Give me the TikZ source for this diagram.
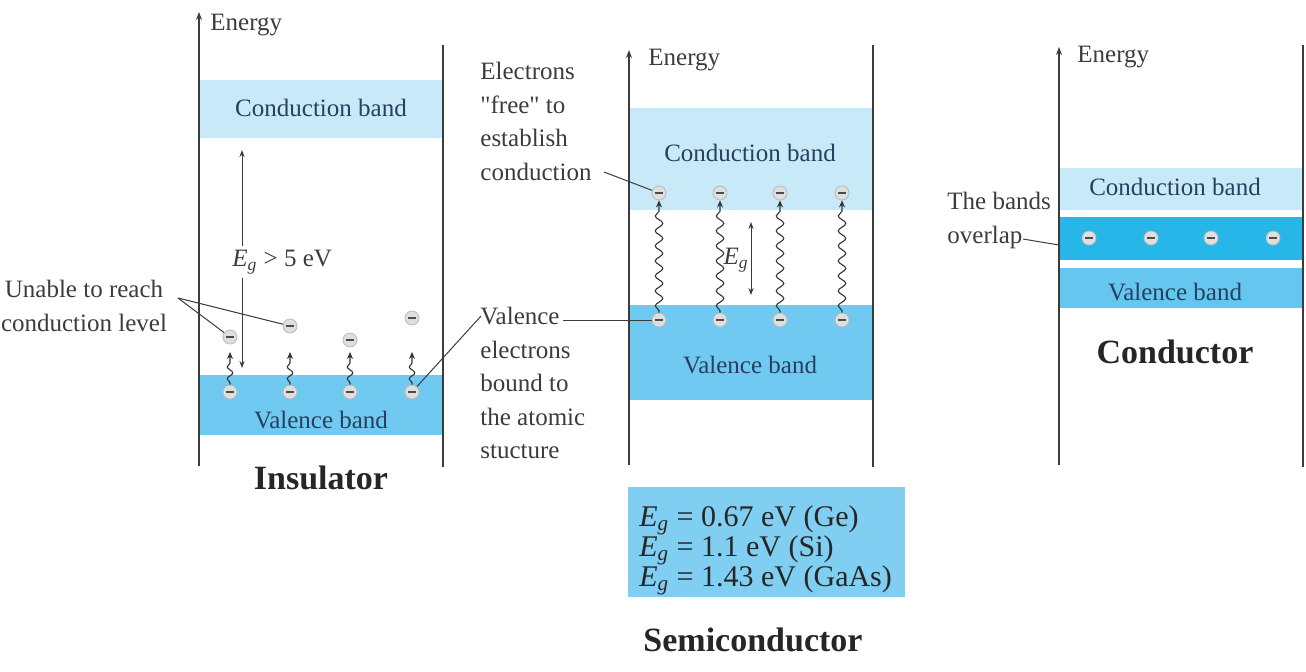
\documentclass[tikz,border=0pt]{standalone}
\usepackage{fontspec}
\setmainfont{Liberation Serif}
\newfontfamily\quotefont{Liberation Serif}[Ligatures=TeXOff]
\usetikzlibrary{arrows.meta, decorations.pathmorphing}

\definecolor{condblue}{RGB}{200,233,247}
\definecolor{valblue}{RGB}{112,201,240}
\definecolor{overblue}{RGB}{38,183,232}
\definecolor{boxblue}{RGB}{128,206,241}
\definecolor{bandink}{RGB}{40,64,96}
\definecolor{ink}{RGB}{60,60,60}

\newcommand{\Eg}{\textit{E}\textsubscript{\textit{g}}}

\tikzset{
  txt/.style={text=ink, font=\fontsize{12.5}{16.75}\selectfont, inner sep=0pt},
  bandlabel/.style={text=bandink, font=\fontsize{12.5}{15}\selectfont, inner sep=0pt},
  title/.style={text=black!85, font=\fontsize{17}{20}\selectfont\bfseries, inner sep=0pt},
  axis/.style={draw=ink, line width=0.6pt, -{Stealth[length=4pt, width=3pt]}},
  wall/.style={draw=ink, line width=0.6pt},
  pointer/.style={draw=ink, line width=0.5pt},
  electron/.style={circle, draw=gray!55, fill=gray!25, line width=0.4pt, minimum size=7pt, inner sep=0pt,
    path picture={\draw[line width=1pt, black!70] ([xshift=-2pt]path picture bounding box.center) -- ([xshift=2pt]path picture bounding box.center);}},
  wave/.style={draw=black!80, line width=0.55pt, decorate,
    decoration={snake, amplitude=1.4pt, segment length=6pt, pre length=1pt, post length=4pt},
    -{Stealth[length=3.5pt, width=3pt]}},
  longwave/.style={wave, decoration={snake, amplitude=1.9pt, segment length=7.5pt, pre length=1pt, post length=4pt}},
  gap/.style={draw=ink, line width=0.5pt, {Stealth[length=3.5pt, width=2.6pt]}-{Stealth[length=3.5pt, width=2.6pt]}}
}

\begin{document}
\begin{tikzpicture}[x=0.5pt, y=-0.5pt]
\useasboundingbox (0,0) rectangle (1306,671);

% ---------------- insulator
\fill[condblue] (199,80) rectangle (443,138);
\fill[valblue] (199,375) rectangle (443,435);
\node[bandlabel] (cbI) at (321,108) {Conduction band};
\node[bandlabel] (vbI) at (321,420) {Valence band};

\coordinate (axI0) at (199,466);
\coordinate (axI1) at (199,12);
\coordinate (wallI0) at (443,45);
\coordinate (wallI1) at (443,467);
\draw[axis] (axI0) -- (axI1);
\draw[wall] (wallI0) -- (wallI1);
\node[txt, anchor=west] (enI) at (210,25) {Energy};

\coordinate (gapI0) at (242,150);
\coordinate (gapI1) at (242,368);
\draw[gap] (gapI0) -- (gapI1);
\node[txt, anchor=west, fill=white, inner ysep=2pt] (egI) at (232,262) {\Eg{} > 5 eV};

\node[electron] (eI1) at (230,337) {};
\node[electron] (eI2) at (290,326) {};
\node[electron] (eI3) at (350,340) {};
\node[electron] (eI4) at (412,318) {};
\node[electron] (vI1) at (230,392) {};
\node[electron] (vI2) at (290,392) {};
\node[electron] (vI3) at (350,392) {};
\node[electron] (vI4) at (412,392) {};
\coordinate (tI1) at (230,352);
\coordinate (tI2) at (290,352);
\coordinate (tI3) at (350,352);
\coordinate (tI4) at (412,352);
\draw[wave] (vI1) -- (tI1);
\draw[wave] (vI2) -- (tI2);
\draw[wave] (vI3) -- (tI3);
\draw[wave] (vI4) -- (tI4);

\node[txt, align=center] (unable) at (84,306) {Unable to reach\\conduction level};
\coordinate (ptU) at (178,298);
\draw[pointer] (ptU) -- (eI1);
\draw[pointer] (ptU) -- (eI2);

\node[title] (insulator) at (321,478) {Insulator};

% ---------------- semiconductor
\fill[condblue] (629,108) rectangle (873,210);
\fill[valblue] (629,305) rectangle (873,400);
\node[bandlabel] (cbS) at (750,153) {Conduction band};
\node[bandlabel] (vbS) at (750,365) {Valence band};

\coordinate (axS0) at (629,465);
\coordinate (axS1) at (629,50);
\coordinate (wallS0) at (873,45);
\coordinate (wallS1) at (873,467);
\draw[axis] (axS0) -- (axS1);
\draw[wall] (wallS0) -- (wallS1);
\node[txt, anchor=west] (enS) at (648,60) {Energy};

\foreach \i/\x in {1/659, 2/720, 3/780, 4/842} {
  \node[electron] (cS\i) at (\x,193) {};
  \node[electron] (vS\i) at (\x,320) {};
  \draw[longwave] (vS\i) -- (cS\i);
}

\coordinate (gapS0) at (751,222);
\coordinate (gapS1) at (751,295);
\draw[gap] (gapS0) -- (gapS1);
\node[txt, anchor=east] (egS) at (749,260) {\Eg};

\node[txt, align=left, anchor=north west] (freetxt) at (480,62) {Electrons\\{\quotefont"}free{\quotefont"} to\\establish\\conduction};
\node[txt, align=left, anchor=north west] (boundtxt) at (480,307) {Valence\\electrons\\bound to\\the atomic\\stucture};
\coordinate (ptCond) at (604,172);
\coordinate (ptVal) at (563,320);
\coordinate (ptValI) at (481,316);
\draw[pointer] (ptCond) -- (cS1);
\draw[pointer] (ptVal) -- (vS1);
\draw[pointer] (ptValI) -- (vI4);

\node[fill=boxblue, minimum width=138.5pt, minimum height=55pt, inner sep=0pt] (gapbox) at (766.5,542) {};
\node[align=left, inner sep=0pt, anchor=west, text=black!85, font=\fontsize{15}{15}\selectfont] (gaptxt) at (639,550)
  {\Eg{} = 0.67 eV (Ge)\\\Eg{} = 1.1 eV (Si)\\\Eg{} = 1.43 eV (GaAs)};

\node[title] (semi) at (753,640) {Semiconductor};

% ---------------- conductor
\fill[condblue] (1059,168) rectangle (1303,210);
\fill[overblue] (1059,217) rectangle (1303,260);
\fill[valblue!85!overblue] (1059,268) rectangle (1303,308);
\node[bandlabel] (cbC) at (1175,187) {Conduction band};
\node[bandlabel] (vbC) at (1175,292) {Valence band};

\coordinate (axC0) at (1059,465);
\coordinate (axC1) at (1059,47);
\coordinate (wallC0) at (1303,45);
\coordinate (wallC1) at (1303,467);
\draw[axis] (axC0) -- (axC1);
\draw[wall] (wallC0) -- (wallC1);
\node[txt, anchor=west] (enC) at (1077,57) {Energy};

\node[electron] (eC1) at (1089,238) {};
\node[electron] (eC2) at (1151,238) {};
\node[electron] (eC3) at (1211,238) {};
\node[electron] (eC4) at (1273,238) {};

\node[txt, align=left, anchor=north west] (overlaptxt) at (947,192) {The bands\\overlap};
\coordinate (ptO0) at (1023,239);
\coordinate (ptO1) at (1059,245);
\draw[pointer] (ptO0) -- (ptO1);

\node[title] (conductor) at (1175,352) {Conductor};

\end{tikzpicture}
\end{document}
